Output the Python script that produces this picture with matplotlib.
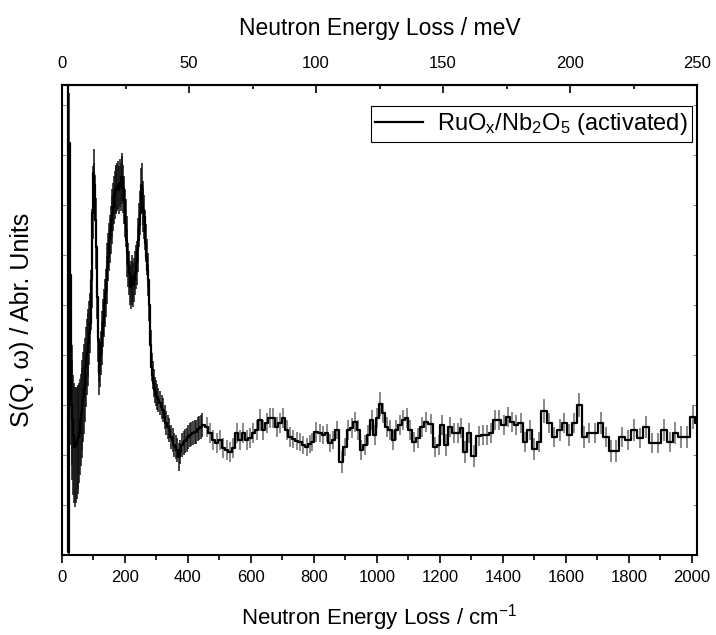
# INS spectrum of RuOx/Nb2O5 (activated), step histogram with error bars

import matplotlib.pyplot as plt
from matplotlib.ticker import MultipleLocator, FixedLocator, NullFormatter

plt.rcParams['font.family'] = ['Liberation Sans', 'DejaVu Sans']
plt.rcParams['mathtext.fontset'] = 'custom'
plt.rcParams['mathtext.rm'] = 'Liberation Sans'
plt.rcParams['mathtext.it'] = 'Liberation Sans:italic'

CM_PER_MEV = 8.0655

# ---------------------------------
# Data (arbitrary units)
# ---------------------------------

energy_cm = [
    12, 16, 19, 21, 23, 26, 29, 31, 33, 36,
    38, 41, 44, 47, 50, 52, 55, 57, 60, 62,
    65, 68, 70, 73, 76, 78, 81, 84, 86, 89,
    92, 94, 96, 97, 99, 101, 103, 105, 107, 109,
    111, 112, 114, 115, 117, 118, 120, 123, 126, 128,
    131, 133, 136, 139, 142, 144, 147, 149, 152, 155,
    158, 160, 163, 165, 168, 170, 173, 176, 178, 181,
    184, 186, 189, 191, 194, 197, 200, 202, 205, 207,
    210, 213, 216, 218, 221, 223, 226, 229, 232, 235,
    237, 240, 242, 245, 248, 251, 253, 256, 258, 261,
    264, 266, 269, 272, 274, 277, 279, 282, 285, 288,
    291, 294, 298, 301, 306, 311, 316, 321, 326, 331,
    336, 341, 346, 351, 356, 361, 366, 371, 376, 381,
    386, 391, 396, 401, 406, 411, 416, 421, 426, 431,
    436, 441, 446,
    459, 470, 480, 491, 502, 512, 523, 533, 544, 555,
    565, 576, 586, 597, 607, 618, 629, 639, 650, 660,
    671, 682, 692, 703, 713, 724, 734, 745, 756, 766,
    777, 787, 795, 808, 819, 830, 840, 851, 861, 874,
    888, 898, 909, 920, 930, 941, 951, 962, 972, 983,
    993, 1001, 1010, 1020, 1031, 1041, 1052, 1062, 1073, 1084,
    1094, 1105, 1117, 1130, 1142, 1155, 1171, 1184, 1196, 1207,
    1219, 1233, 1244, 1258, 1268, 1279, 1293, 1307, 1323, 1336,
    1350, 1361, 1374, 1388, 1403, 1416, 1429, 1441, 1456, 1470,
    1485, 1499, 1515, 1530, 1547, 1562, 1582, 1595, 1610, 1626,
    1642, 1658, 1674, 1692, 1710, 1727, 1744, 1759, 1778, 1798,
    1816, 1835, 1854, 1874, 1892, 1911, 1930, 1948, 1966, 1986,
    2004, 2019,
]

intensity = [
    600, 600, 600, 3, 412, 280, 170, 150, 135, 120,
    112, 108, 110, 112, 115, 118, 122, 128, 135, 142,
    150, 158, 166, 175, 188, 198, 205, 212, 222, 232,
    255, 275, 320, 342, 365, 382, 370, 358, 335, 308,
    282, 258, 235, 215, 195, 182, 190, 202, 212, 222,
    232, 242, 252, 262, 275, 288, 298, 308, 316, 325,
    335, 342, 348, 355, 360, 365, 366, 368, 370, 365,
    372, 368, 378, 375, 366, 355, 342, 332, 315, 302,
    290, 282, 272, 268, 272, 278, 270, 275, 282, 288,
    292, 305, 315, 330, 342, 365, 370, 352, 345, 338,
    325, 312, 298, 285, 275, 250, 225, 210, 188, 180,
    172, 165, 162, 158, 155, 152, 148, 145, 138, 132,
    128, 125, 118, 115, 110, 108, 105, 98, 103, 110,
    112, 114, 115, 118, 120, 121, 122, 123, 123, 126,
    127, 128, 130,
    128, 122, 115, 112, 115, 107, 105, 103, 107, 122,
    115, 122, 115, 117, 122, 125, 135, 125, 132, 137,
    137, 128, 132, 137, 125, 118, 116, 114, 113, 110,
    108, 111, 113, 123, 122, 120, 122, 112, 115, 125,
    93, 108, 125, 127, 133, 125, 105, 110, 120, 135,
    120, 137, 151, 142, 128, 125, 115, 125, 130, 135,
    137, 125, 113, 117, 128, 133, 131, 108, 110, 130,
    110, 128, 122, 122, 127, 103, 122, 99, 119, 120,
    120, 122, 135, 135, 130, 138, 133, 130, 132, 113,
    125, 106, 113, 144, 132, 118, 125, 132, 120, 132,
    150, 118, 122, 122, 132, 118, 104, 104, 118, 115,
    125, 117, 128, 112, 112, 125, 113, 122, 118, 118,
    138, 132,
]

error = [
    0, 0, 0, 3, 50, 60, 60, 60, 60, 60,
    60, 60, 58, 56, 54, 52, 50, 48, 46, 45,
    45, 45, 45, 42, 40, 38, 36, 34, 32, 30,
    30, 28, 26, 26, 24, 24, 22, 22, 22, 22,
    22, 22, 22, 22, 22, 22, 22, 22, 22, 22,
    24, 24, 24, 24, 24, 24, 24, 24, 24, 24,
    24, 24, 24, 24, 24, 24, 24, 24, 24, 24,
    24, 24, 24, 24, 24, 24, 24, 24, 24, 24,
    22, 22, 22, 22, 22, 22, 22, 22, 22, 22,
    22, 22, 22, 22, 22, 22, 22, 22, 22, 22,
    20, 19, 18, 17, 16, 16, 15, 15, 14, 14,
    14, 13, 13, 13, 12, 12, 12, 12, 12, 12,
    12, 12, 12, 12, 12, 12, 12, 14, 12, 12,
    12, 12, 12, 12, 12, 12, 12, 12, 12, 12,
    12, 12, 12,
    10, 10, 10, 10, 10, 10, 10, 10, 10, 10,
    10, 10, 10, 10, 10, 10, 11, 10, 10, 10,
    10, 10, 10, 10, 10, 10, 9, 9, 9, 9,
    9, 9, 9, 10, 9, 9, 9, 9, 9, 9,
    11, 9, 10, 10, 10, 10, 10, 10, 10, 10,
    10, 10, 12, 10, 10, 10, 10, 10, 10, 10,
    10, 10, 10, 10, 10, 10, 10, 10, 10, 10,
    11, 10, 10, 10, 10, 11, 10, 11, 10, 10,
    10, 10, 10, 10, 10, 10, 10, 10, 10, 10,
    10, 11, 10, 12, 10, 10, 11, 10, 11, 10,
    12, 11, 10, 10, 11, 10, 11, 11, 10, 10,
    11, 10, 11, 10, 10, 11, 10, 11, 11, 11,
    12, 11,
]

label = 'RuO$_\\mathregular{x}$/Nb$_\\mathregular{2}$O$_\\mathregular{5}$ (activated)'

# ---------------------------------
# Plot
# ---------------------------------

fig = plt.figure(figsize=(7.16, 6.35), dpi=100)
ax = fig.add_axes([62 / 716, 80 / 635, 635 / 716, 470 / 635])

# error bars: dense low-energy bins look black, the wide bins look grey
lows = [y - e for y, e in zip(intensity, error)]
highs = [y + e for y, e in zip(intensity, error)]
bar_colors = ['#111111' if e < 450 else '#6a6a6a' for e in energy_cm]
ax.vlines(energy_cm, lows, highs, colors=bar_colors, lw=1.1, zorder=2)

ax.step(energy_cm, intensity, where='mid', color='black', lw=1.6,
        zorder=3, label=label)

ax.set_xlim(0, 250 * CM_PER_MEV)
ax.set_ylim(0, 470)

for side in ['left', 'right', 'top', 'bottom']:
    ax.spines[side].set_linewidth(1.5)

ax.xaxis.set_major_locator(FixedLocator(range(0, 2001, 200)))
ax.xaxis.set_minor_locator(FixedLocator(range(100, 2001, 200)))
ax.tick_params(axis='x', which='major', direction='out', length=6, width=1.2,
               labelsize=12, pad=5)
ax.tick_params(axis='x', which='minor', direction='out', length=3.5, width=1.2)

ax.yaxis.set_major_locator(MultipleLocator(100))
ax.yaxis.set_minor_locator(MultipleLocator(50))
ax.yaxis.set_major_formatter(NullFormatter())
ax.tick_params(axis='y', which='both', direction='in', left=True, right=True,
               length=3, width=0.8, color='#888888')

ax.set_xlabel('Neutron Energy Loss / cm$^{\\mathregular{-1}}$', fontsize=16, labelpad=12)
ax.set_ylabel('S(Q, \u03c9) / Abr. Units', fontsize=18, labelpad=17)

top = ax.secondary_xaxis('top', functions=(lambda x: x / CM_PER_MEV,
                                            lambda x: x * CM_PER_MEV))
top.xaxis.set_major_locator(FixedLocator([0, 50, 100, 150, 200, 250]))
top.xaxis.set_minor_locator(FixedLocator([25, 75, 125, 175, 225]))
top.tick_params(axis='x', which='major', direction='in', length=6, width=1.2,
                labelsize=12, pad=10)
top.tick_params(axis='x', which='minor', direction='in', length=3, width=1.2)
top.spines['top'].set_linewidth(1.5)
top.set_xlabel('Neutron Energy Loss / meV', fontsize=16.5, labelpad=15)

leg = ax.legend(loc='upper right', bbox_to_anchor=(0.992, 0.955),
                borderaxespad=0, fontsize=17, fancybox=False, framealpha=1,
                edgecolor='black', handlelength=2.0, handletextpad=0.6,
                borderpad=0.2)
leg.get_frame().set_linewidth(0.8)

fig.savefig('out.png', dpi=100)
